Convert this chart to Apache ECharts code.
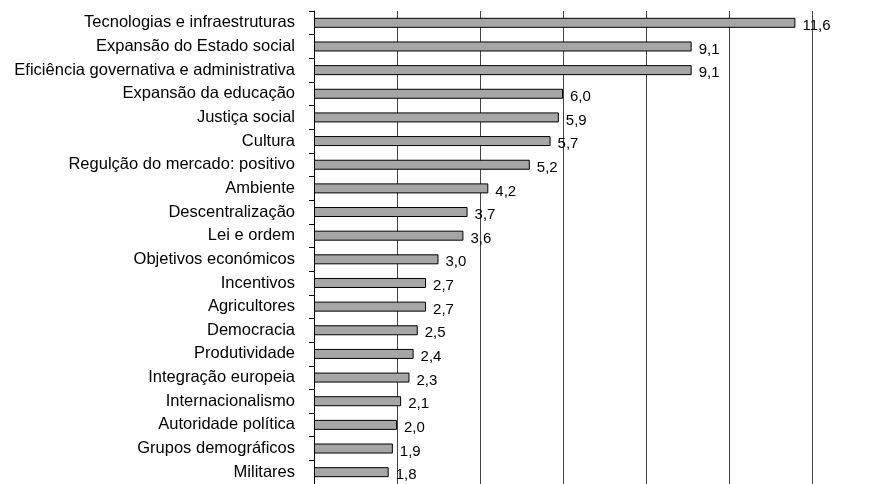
<!DOCTYPE html>
<html>
<head>
<meta charset="utf-8">
<script src="https://cdn.jsdelivr.net/npm/echarts@6/dist/echarts.min.js"></script>
<style>html,body{margin:0;padding:0;background:#fff;}#c{width:890px;height:484px;}</style>
</head>
<body>
<div id="c"></div>
<script>
const categories = [
  "Tecnologias e infraestruturas",
  "Expansão do Estado social",
  "Eficiência governativa e administrativa",
  "Expansão da educação",
  "Justiça social",
  "Cultura",
  "Regulção do mercado: positivo",
  "Ambiente",
  "Descentralização",
  "Lei e ordem",
  "Objetivos económicos",
  "Incentivos",
  "Agricultores",
  "Democracia",
  "Produtividade",
  "Integração europeia",
  "Internacionalismo",
  "Autoridade política",
  "Grupos demográficos",
  "Militares"
];
const values = [11.6, 9.1, 9.1, 6.0, 5.9, 5.7, 5.2, 4.2, 3.7, 3.6, 3.0, 2.7, 2.7, 2.5, 2.4, 2.3, 2.1, 2.0, 1.9, 1.8];

const chart = echarts.init(document.getElementById('c'), null, {renderer: 'canvas'});
chart.setOption({
  animation: false,
  textStyle: {fontFamily: 'Liberation Sans, Arial, sans-serif'},
  grid: {left: 314, right: 78, top: 11, height: 476.6, containLabel: false},
  xAxis: {
    type: 'value', min: 0, max: 12, interval: 2,
    axisLabel: {show: false},
    axisLine: {show: false},
    axisTick: {show: false},
    splitLine: {show: true, lineStyle: {color: '#444', width: 1}}
  },
  yAxis: {
    type: 'category', data: categories, inverse: true,
    axisLine: {show: true, lineStyle: {color: '#000', width: 1}},
    axisTick: {show: true, length: 5, lineStyle: {color: '#000'}},
    axisLabel: {color: '#000', fontSize: 16.5, margin: 19, fontFamily: 'Liberation Sans, Arial, sans-serif'}
  },
  series: [{
    type: 'bar',
    data: values,
    barWidth: 10,
    itemStyle: {color: '#a6a6a6', borderColor: '#000', borderWidth: 1},
    label: {
      show: true, position: 'right', distance: 7, offset: [0, 3],
      color: '#000', fontSize: 15, fontFamily: 'Liberation Sans, Arial, sans-serif',
      formatter: p => p.value.toFixed(1).replace('.', ',')
    }
  }]
});
</script>
</body>
</html>
